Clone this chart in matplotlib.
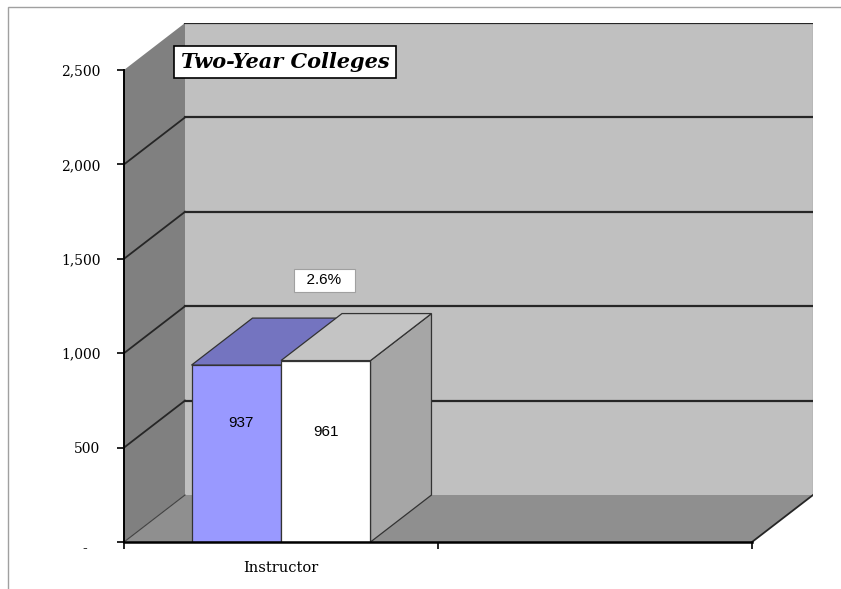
import matplotlib
matplotlib.use("Agg")
import matplotlib.pyplot as plt
from matplotlib.patches import Polygon, Rectangle

# data
categories = ["Instructor", ""]
prior_year = [937, None]
current_year = [961, None]
y_ticks = [0, 500, 1000, 1500, 2000, 2500]
y_tick_labels = ["-   ", "500", "1,000", "1,500", "2,000", "2,500"]
title = "Two-Year Colleges"

# look
W, H = 841, 589
WALL_BACK = "#c0c0c0"
WALL_SIDE = "#808080"
FLOOR = "#8f8f8f"
GRID = "#262626"
EDGE = "#333333"
BLUE_FRONT, BLUE_TOP, BLUE_SIDE = "#9999ff", "#7474c0", "#6666aa"
WHITE_FRONT, WHITE_TOP, WHITE_SIDE = "#ffffff", "#c4c4c4", "#a6a6a6"
SERIF = ["DejaVu Serif"]
SANS = ["Liberation Sans", "DejaVu Sans"]

n = len(categories)
YMAX = y_ticks[-1]
DX = 61 / 314            # depth offset, category units
DY = 47 * YMAX / 472     # depth offset, value units
BAR_W = 0.285

fig = plt.figure(figsize=(W / 100, H / 100), dpi=100)
fig.patch.set_facecolor("white")
# outer chart frame
fig.add_artist(Rectangle((8 / W, -0.1), 1.2, 1 - 7 / H + 0.1, transform=fig.transFigure,
                         fill=False, edgecolor="#a0a0a0", linewidth=1))

ax = fig.add_axes([124 / W, 1 - 542 / H, (813 - 124) / W, (542 - 23) / H])
ax.set_xlim(0, n + DX)
ax.set_ylim(0, YMAX + DY)
ax.patch.set_visible(False)

# walls and floor
ax.add_patch(Polygon([(DX, DY), (n + DX, DY), (n + DX, YMAX + DY), (DX, YMAX + DY)],
                     facecolor=WALL_BACK, edgecolor="none", zorder=1))
ax.plot([n + DX, n + DX], [DY, YMAX + DY], color="#9a9a9a", lw=1, zorder=1.2)
ax.add_patch(Polygon([(0, 0), (DX, DY), (DX, YMAX + DY), (0, YMAX)],
                     facecolor=WALL_SIDE, edgecolor="none", zorder=1))
ax.add_patch(Polygon([(0, 0), (n, 0), (n + DX, DY), (DX, DY)],
                     facecolor=FLOOR, edgecolor="none", zorder=1))
ax.plot([n, n + DX], [0, DY], color=GRID, lw=1.3, zorder=1.5)
ax.plot([0, DX], [0, DY], color="#404040", lw=0.8, zorder=1.5)

# gridlines on the walls
for v in y_ticks[1:]:
    ax.plot([DX, n + DX], [v + DY, v + DY], color=GRID, lw=1.6, zorder=1.5)
    if v < YMAX:
        ax.plot([0, DX], [v, v + DY], color=GRID, lw=1.3, zorder=1.5)


def bar3d(x0, v, front, top, side, z):
    x1 = x0 + BAR_W
    kw = dict(edgecolor=EDGE, linewidth=0.9, zorder=z, joinstyle="miter")
    ax.add_patch(Polygon([(x1, 0), (x1 + DX, DY), (x1 + DX, v + DY), (x1, v)], facecolor=side, **kw))
    ax.add_patch(Polygon([(x0, v), (x1, v), (x1 + DX, v + DY), (x0 + DX, v + DY)], facecolor=top, **kw))
    ax.add_patch(Rectangle((x0, 0), BAR_W, v, facecolor=front, **kw))


for i, (a, b) in enumerate(zip(prior_year, current_year)):
    if a is None or b is None:
        continue
    left = i + (1 - 2 * BAR_W) / 2
    bar3d(left, a, BLUE_FRONT, BLUE_TOP, BLUE_SIDE, 2)
    bar3d(left + BAR_W, b, WHITE_FRONT, WHITE_TOP, WHITE_SIDE, 3)
    ax.text(left + BAR_W / 2 + 0.015, a * 0.67, f"{a:,}", ha="center", va="center",
            fontsize=11, family=SANS, zorder=5)
    ax.text(left + 1.5 * BAR_W, b * 0.605, f"{b:,}", ha="center", va="center",
            fontsize=11, family=SANS, zorder=5)
    change = (b - a) / a * 100
    ax.text(left + 1.5 * BAR_W - 0.005, b + 425, f"  {change:.1f}%  ", ha="center", va="center",
            fontsize=11, family=SANS, zorder=5,
            bbox=dict(boxstyle="square,pad=0.3", facecolor="white", edgecolor="#a0a0a0", lw=0.8))

# axes
for s in ("top", "right"):
    ax.spines[s].set_visible(False)
ax.spines["left"].set_bounds(0, YMAX)
ax.spines["bottom"].set_bounds(0, n)
ax.spines["left"].set_linewidth(1.4)
ax.spines["bottom"].set_linewidth(1.8)
ax.spines["left"].set_zorder(6)
ax.spines["bottom"].set_zorder(6)

ax.set_yticks(y_ticks)
ax.set_yticklabels(y_tick_labels)
ax.tick_params(axis="y", direction="out", length=5, width=1.2, pad=12, labelsize=10)
ax.set_xticks(range(n + 1))
ax.set_xticklabels([""] * (n + 1))
ax.set_xticks([i + 0.5 for i in range(n)], minor=True)
ax.set_xticklabels(categories, minor=True)
ax.tick_params(axis="x", which="major", direction="out", length=5, width=1.2)
ax.tick_params(axis="x", which="minor", length=0, pad=14, labelsize=10.5)
for lbl in ax.get_yticklabels() + ax.get_xticklabels(minor=True):
    lbl.set_family(SERIF)
ax.get_yticklabels()[0].set_va("top")

fig.text(285 / W, 1 - 62 / H, title, ha="center", va="center", fontsize=15,
         family=SERIF, fontweight="bold", style="italic",
         bbox=dict(boxstyle="square,pad=0.3", facecolor="white", edgecolor="black", lw=1.2))

fig.savefig("out.png", dpi=100, facecolor="white")
